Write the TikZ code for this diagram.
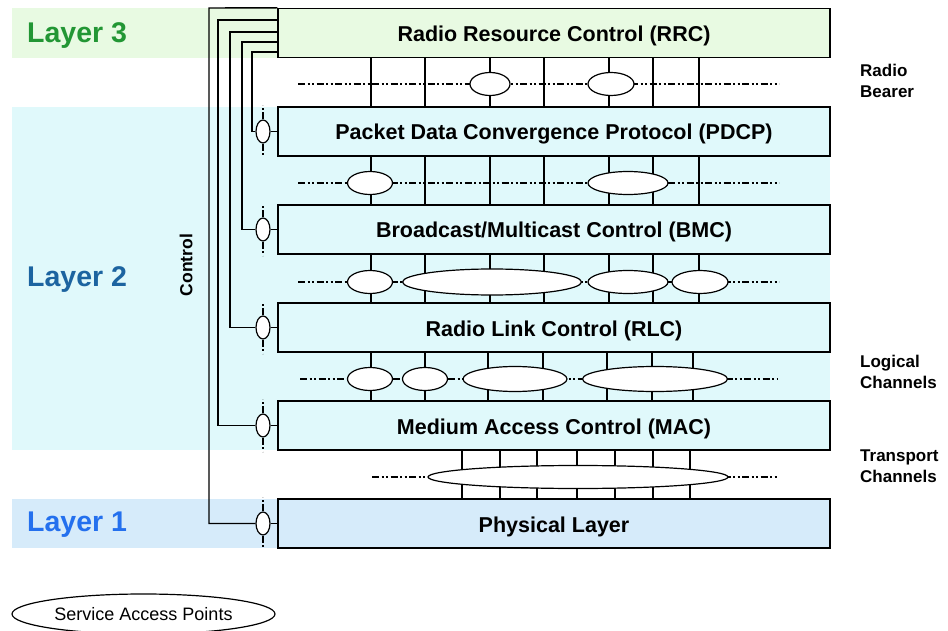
\documentclass[tikz,border=0pt]{standalone}
\usepackage{fontspec}
\setmainfont{Liberation Sans}
\usetikzlibrary{shapes.geometric}

\pgfdeclarelayer{bands}
\pgfdeclarelayer{wires}
\pgfsetlayers{bands,wires,main}

\definecolor{bandthree}{RGB}{232,250,226}
\definecolor{bandtwo}{RGB}{224,249,251}
\definecolor{bandone}{RGB}{214,235,250}
\definecolor{txtthree}{RGB}{34,150,52}
\definecolor{txttwo}{RGB}{28,100,160}
\definecolor{txtone}{RGB}{36,112,238}

\begin{document}
\begin{tikzpicture}[x=1pt,y=-1pt,
  layerbox/.style={draw, line width=1.4pt, minimum width=552pt, minimum height=49pt,
    inner sep=0pt, text height=17pt, text depth=0pt,
    font=\fontsize{21.5}{24}\selectfont\bfseries},
  sapoval/.style={draw, fill=white, ellipse, line width=1.2pt, inner sep=0pt, minimum height=23pt},
  ctrlsap/.style={draw, fill=white, ellipse, line width=1.2pt, inner sep=0pt,
    minimum width=14pt, minimum height=23pt},
  dashdot/.style={line width=1.1pt, dash pattern=on 7pt off 2.5pt on 2pt off 2.5pt on 2pt off 2.5pt},
  wire/.style={line width=1.4pt},
  layername/.style={anchor=west, inner sep=0pt, font=\fontsize{28.5}{32}\selectfont\bfseries},
  sidenote/.style={anchor=west, align=left, inner sep=0pt, font=\fontsize{17}{21}\selectfont\bfseries},
]
\clip (0,0) rectangle (948,631);

% layer bands
\begin{pgfonlayer}{bands}
  \fill[bandthree] (12,8) rectangle (830,58);
  \fill[bandtwo] (12,107) rectangle (830,450);
  \fill[bandone] (12,499) rectangle (830,548);
\end{pgfonlayer}

\node[layername, text=txtthree] (l3) at (27,36) {Layer 3};
\node[layername, text=txttwo] (l2) at (27,280) {Layer 2};
\node[layername, text=txtone] (l1) at (27,525) {Layer 1};

% protocol entities
\node[layerbox, fill=bandthree] (rrc) at (554,33) {Radio Resource Control (RRC)};
\node[layerbox, fill=bandtwo] (pdcp) at (554,131.5) {Packet Data Convergence Protocol (PDCP)};
\node[layerbox, fill=bandtwo] (bmc) at (554,229.5) {Broadcast/Multicast Control (BMC)};
\node[layerbox, fill=bandtwo] (rlc) at (554,327.5) {Radio Link Control (RLC)};
\node[layerbox, fill=bandtwo] (mac) at (554,425.5) {Medium Access Control (MAC)};
\node[layerbox, fill=bandone] (phy) at (554,523.5) {Physical Layer};

% channel lines between the entities
\coordinate (g1l) at (298,84);  \coordinate (g1r) at (779,84);
\coordinate (g2l) at (298,183); \coordinate (g2r) at (779,183);
\coordinate (g3l) at (298,282); \coordinate (g3r) at (779,282);
\coordinate (g4l) at (300,379); \coordinate (g4r) at (777,379);
\coordinate (g5l) at (372,477); \coordinate (g5r) at (778,477);

\begin{pgfonlayer}{wires}
  \foreach \x in {371,425,490,544,609,653,699}
    \draw[wire] (\x,0 |- rrc.south) -- (\x,0 |- pdcp.north);
  \foreach \x in {371,425,490,544,609,653,699}
    \draw[wire] (\x,0 |- pdcp.south) -- (\x,0 |- bmc.north);
  \foreach \x in {371,425,490,544,609,653,699}
    \draw[wire] (\x,0 |- bmc.south) -- (\x,0 |- rlc.north);
  \foreach \x in {371,425,488,543,607,652,693}
    \draw[wire] (\x,0 |- rlc.south) -- (\x,0 |- mac.north);
  \foreach \x in {462,500,537,577,615,653,690}
    \draw[wire] (\x,0 |- mac.south) -- (\x,0 |- phy.north);
  \draw[dashdot] (g1l) -- (g1r);
  \draw[dashdot] (g2l) -- (g2r);
  \draw[dashdot] (g3l) -- (g3r);
  \draw[dashdot] (g4l) -- (g4r);
  \draw[dashdot] (g5l) -- (g5r);
\end{pgfonlayer}

% service access points: radio bearers
\node[sapoval, minimum width=40pt] (rb1) at (490,84) {};
\node[sapoval, minimum width=46pt] (rb2) at (611,84) {};
% PDCP / BMC
\node[sapoval, minimum width=45pt] (pb1) at (370,183) {};
\node[sapoval, minimum width=80pt] (pb2) at (628,183) {};
% logical channels above RLC
\node[sapoval, minimum width=45pt] (br1) at (370,282) {};
\node[sapoval, minimum width=179pt, minimum height=26pt] (br2) at (492,282) {};
\node[sapoval, minimum width=80pt] (br3) at (628,282) {};
\node[sapoval, minimum width=56pt] (br4) at (700,282) {};
% logical channels
\node[sapoval, minimum width=45pt] (lc1) at (370,379) {};
\node[sapoval, minimum width=45pt] (lc2) at (425,379) {};
\node[sapoval, minimum width=104pt, minimum height=25pt] (lc3) at (515,379) {};
\node[sapoval, minimum width=145pt, minimum height=25pt] (lc4) at (655,379) {};
% transport channels
\node[sapoval, minimum width=300pt] (tc) at (578,477) {};

% control service access points
\foreach \n/\b in {spdcp/pdcp, sbmc/bmc, srlc/rlc, smac/mac, sphy/phy} {
  \node[ctrlsap] (\n) at (263,0 |- \b.west) {};
  \draw[dashdot] (\n.north) -- ++(0,-14);
  \draw[dashdot] (\n.south) -- ++(0,14);
  \draw[wire] (\n.east) -- (\b.west);
}

% control lines from RRC
\draw[wire] (rrc.north west) -- (209,8) |- (sphy.west);
\draw[wire] (rrc.west |- 0,20) -- (218,20) |- (smac.west);
\draw[wire] (rrc.west |- 0,32) -- (230,32) |- (srlc.west);
\draw[wire] (rrc.west |- 0,42) -- (242,42) |- (sbmc.west);
\draw[wire] (rrc.west |- 0,52) -- (252,52) |- (spdcp.west);

\node[rotate=90, inner sep=0pt, font=\fontsize{17.5}{20}\selectfont\bfseries] (ctl) at (186,265) {Control};

% side notes
\node[sidenote] (rbn) at (860,81) {Radio\\Bearer};
\node[sidenote] (lcn) at (860,372) {Logical\\Channels};
\node[sidenote] (tcn) at (860,466) {Transport\\Channels};

% legend
\node[draw, ellipse, line width=1.2pt, inner sep=0pt, minimum width=263pt, minimum height=40pt,
  font=\fontsize{18}{21}\selectfont] (legend) at (143.5,614) {Service Access Points};
\end{tikzpicture}
\end{document}
